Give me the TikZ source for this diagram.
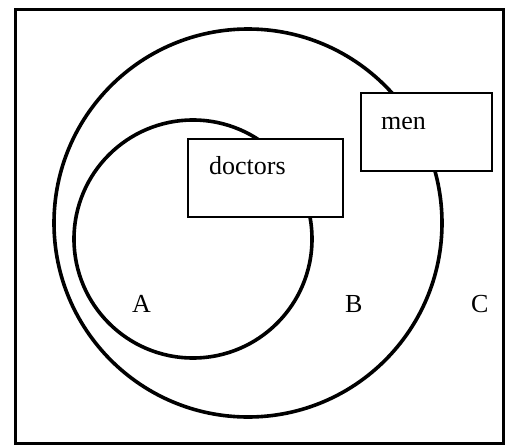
\documentclass[tikz,border=0pt]{standalone}
\usepackage{fontspec}
\setmainfont{Liberation Serif}
\begin{document}
\begin{tikzpicture}[x=1pt,y=-1pt,
  frame/.style={draw=black,line width=3pt},
  ring/.style={draw=black,line width=3.6pt},
  tag/.style={draw=black,fill=white,line width=1.3pt,inner sep=0pt},
  word/.style={anchor=base west,inner sep=0pt,font=\fontsize{26}{30}\selectfont}]
  \useasboundingbox (0,0) rectangle (509,447);
  % universe
  \draw[frame] (15,9.5) rectangle (503,443.5);
  % sets
  \draw[ring] (248,223) circle[radius=194pt];
  \draw[ring] (193,239) circle[radius=119pt];
  % labelled boxes
  \node[tag,minimum width=155pt,minimum height=78pt] (doctorsbox) at (265.5,178) {};
  \node[tag,minimum width=131pt,minimum height=78pt] (menbox) at (426.5,132) {};
  \node[word] (doctors) at (209,174) {doctors};
  \node[word] (men) at (381,129) {men};
  % region names
  \node[word] (A) at (132,312) {A};
  \node[word] (B) at (345,312) {B};
  \node[word] (C) at (471,312) {C};
\end{tikzpicture}
\end{document}
